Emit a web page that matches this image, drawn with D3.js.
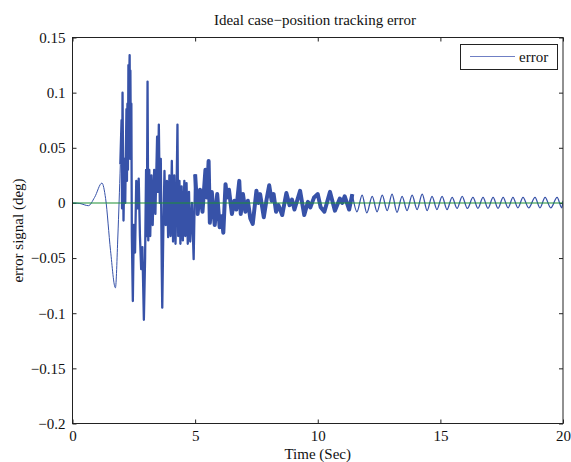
<!DOCTYPE html>
<html lang="en">
<head>
  <meta charset="UTF-8" />
  <title>Ideal case position tracking error</title>
  <style>
    body { margin:0; background:#fff; }
    #chart { display:block; }
    text { font-family:"Liberation Serif","Times New Roman",serif; fill:#111; }
  </style>
</head>
<body>
  <svg id="chart" width="571" height="462"></svg>

  <script src="https://d3js.org/d3.v7.min.js"></script>
  <script>
  // smooth start of the error trace (s, deg)
  const startT = [0, 0.3, 0.65, 0.9, 1.2, 1.35, 1.55, 1.75, 1.85, 1.95];
  const startV = [0, -0.0005, -0.0025, 0.005, 0.018, 0.004, -0.043, -0.077, -0.03, 0.035];

  // large jagged transient, 2-5 s
  const burstT = [1.95, 2.0, 2.02, 2.04, 2.08, 2.12, 2.15, 2.2, 2.22, 2.24, 2.26, 2.28, 2.3, 2.31,
                  2.33, 2.35, 2.36, 2.38, 2.4, 2.42, 2.46, 2.5, 2.55, 2.6, 2.65, 2.7, 2.75, 2.8,
                  2.85, 2.91, 2.96, 3.0, 3.03, 3.06, 3.09, 3.13, 3.17, 3.22, 3.27, 3.33, 3.38,
                  3.45, 3.48, 3.52, 3.56, 3.6, 3.64, 3.66, 3.7, 3.75, 3.8, 3.85, 3.9, 3.95, 4.0,
                  4.05, 4.1, 4.15, 4.2, 4.25, 4.28, 4.31, 4.36, 4.4, 4.45, 4.5, 4.56, 4.6, 4.65,
                  4.7, 4.75, 4.8, 4.87, 4.94, 5.0];
  const burstV = [0.035, 0.075, -0.005, 0.100, -0.016, 0.040, 0.000, 0.085, 0.020, 0.090, 0.030, 0.125,
                  0.040, 0.110, 0.134, 0.040, 0.120, 0.050, 0.090, -0.030, -0.089, -0.020, -0.045,
                  0.020, -0.005, 0.022, -0.030, -0.060, -0.040, -0.106, -0.050, 0.030, -0.030, 0.110,
                  -0.034, 0.030, -0.030, 0.025, -0.020, 0.030, -0.010, 0.060, 0.010, 0.071, 0.000,
                  0.040, -0.060, -0.095, -0.030, 0.029, -0.020, 0.020, -0.031, 0.025, -0.030, 0.038,
                  -0.035, 0.025, -0.037, 0.020, 0.071, -0.030, 0.020, -0.037, 0.015, -0.034, 0.020,
                  -0.030, 0.018, -0.037, 0.010, -0.035, 0.000, -0.051, 0.026];

  // decaying noisy wave, 5-11.4 s
  const waveT = [5.0, 5.1, 5.2, 5.3, 5.42, 5.48, 5.55, 5.6, 5.68, 5.8, 5.9, 6.0, 6.08, 6.15, 6.24, 6.3,
                 6.38, 6.5, 6.6, 6.68, 6.8, 6.86, 6.95, 7.05, 7.15, 7.25, 7.35, 7.5, 7.58, 7.65, 7.8,
                 7.92, 8.02, 8.12, 8.2, 8.3, 8.4, 8.55, 8.72, 8.85, 8.95, 9.05, 9.28, 9.45, 9.6, 9.7,
                 9.85, 10.0, 10.12, 10.27, 10.5, 10.7, 10.9, 11.0, 11.1, 11.28, 11.41];
  const waveV = [0.026, -0.010, 0.012, -0.008, 0.030, 0.005, 0.038, -0.018, 0.010, -0.020, 0.008, -0.022,
                 -0.012, -0.027, 0.017, 0.005, 0.012, -0.010, 0.002, -0.006, 0.020, -0.010, 0.008, -0.008,
                 0.002, -0.014, -0.019, 0.011, 0.000, 0.008, -0.013, 0.004, 0.016, 0.002, 0.008, -0.008,
                 -0.002, -0.011, 0.009, -0.002, 0.003, -0.006, 0.011, -0.011, 0.001, -0.004, 0.005, 0.008,
                 -0.004, -0.008, 0.010, -0.007, 0.004, 0.000, 0.006, -0.006, 0.008];

  // settled oscillation, peaks and troughs (s, deg)
  const tailT = [11.41, 11.6, 11.81, 12.0, 12.22, 12.42, 12.63, 12.83, 13.03, 13.23, 13.44, 13.64,
                 13.85, 14.05, 14.26, 14.46, 14.66, 14.86, 15.07, 15.27, 15.48, 15.68, 15.89, 16.1,
                 16.33, 16.53, 16.74, 16.94, 17.15, 17.35, 17.56, 17.76, 17.96, 18.16, 18.37, 18.6,
                 18.86, 19.06, 19.27, 19.5, 19.76, 19.95, 20];
  const tailV = [0.008, -0.008, 0.007, -0.009, 0.006, -0.008, 0.007, -0.007, 0.008, -0.0085, 0.006,
                 -0.007, 0.007, -0.006, 0.008, -0.007, 0.006, -0.006, 0.006, -0.006, 0.005, -0.005,
                 0.006, -0.005, 0.005, -0.005, 0.005, -0.005, 0.005, -0.005, 0.005, -0.0045, 0.005,
                 -0.0045, 0.005, -0.0045, 0.005, -0.0045, 0.005, -0.0045, 0.005, -0.0045, 0.002];

  const xTicks = [0, 5, 10, 15, 20];
  const yTicks = [-0.2, -0.15, -0.1, -0.05, 0, 0.05, 0.1, 0.15];

  const svg = d3.select("#chart");
  const L = 72.5, R = 563, T = 37.5, B = 423.5;
  const x = d3.scaleLinear().domain([0, 20]).range([L, R]);
  const y = d3.scaleLinear().domain([-0.2, 0.15]).range([B, T]);
  const blue = "#3752a8", green = "#1c8f34";
  const serif = "Liberation Serif, Times New Roman, serif";
  const fmt = d => d === 0 ? "0" : String(d).replace("-", "\u2212");

  // axes with inward ticks on all four sides
  const gx = svg.append("g").attr("transform", `translate(0,${B})`)
    .call(d3.axisBottom(x).tickValues(xTicks).tickSize(-4).tickPadding(7).tickFormat(fmt));
  const gy = svg.append("g").attr("transform", `translate(${L},0)`)
    .call(d3.axisLeft(y).tickValues(yTicks).tickSize(-4).tickPadding(7).tickFormat(fmt));
  const gt = svg.append("g").attr("transform", `translate(0,${T})`)
    .call(d3.axisTop(x).tickValues(xTicks).tickSize(-4).tickFormat(""));
  const gr = svg.append("g").attr("transform", `translate(${R},0)`)
    .call(d3.axisRight(y).tickValues(yTicks).tickSize(-4).tickFormat(""));
  [gx, gy, gt, gr].forEach(g => {
    g.attr("font-family", serif).attr("font-size", 15);
    g.select(".domain").remove();
    g.selectAll("line").attr("stroke", "#222");
    g.selectAll("text").attr("fill", "#111");
  });
  gx.selectAll("text").attr("dy", "0.71em");

  // data
  svg.append("clipPath").attr("id", "clip")
    .append("rect").attr("x", L).attr("y", T).attr("width", R - L).attr("height", B - T);
  const plot = svg.append("g").attr("clip-path", "url(#clip)");

  const smooth = d3.line().x(d => x(d[0])).y(d => y(d[1])).curve(d3.curveMonotoneX);
  const sharp  = d3.line().x(d => x(d[0])).y(d => y(d[1]));
  const pairs = (ts, vs) => ts.map((t, i) => [t, vs[i]]);

  plot.append("path").datum(pairs(startT, startV))
    .attr("fill", "none").attr("stroke", blue).attr("stroke-width", 1).attr("d", smooth);
  plot.append("path").datum(pairs(burstT, burstV))
    .attr("fill", "none").attr("stroke", blue).attr("stroke-width", 2.3)
    .attr("stroke-linejoin", "round").attr("d", sharp);
  plot.append("path").datum(pairs(waveT, waveV))
    .attr("fill", "none").attr("stroke", blue).attr("stroke-width", 4)
    .attr("stroke-linejoin", "round").attr("d", sharp);
  plot.append("path").datum(pairs(tailT, tailV))
    .attr("fill", "none").attr("stroke", blue).attr("stroke-width", 1.3).attr("d", smooth);

  // reference at zero
  plot.append("line").attr("x1", x(0)).attr("x2", x(20)).attr("y1", y(0)).attr("y2", y(0))
    .attr("stroke", green).attr("stroke-width", 1.1);

  // box
  svg.append("rect").attr("x", L).attr("y", T).attr("width", R - L).attr("height", B - T)
    .attr("fill", "none").attr("stroke", "#222").attr("stroke-width", 1);

  // legend
  const lg = svg.append("g");
  lg.append("rect").attr("x", 460.5).attr("y", 44.5).attr("width", 97).attr("height", 25)
    .attr("fill", "#fff").attr("stroke", "#222");
  lg.append("line").attr("x1", 470).attr("x2", 515).attr("y1", 56.5).attr("y2", 56.5)
    .attr("stroke", "#6f7fc4").attr("stroke-width", 1);
  lg.append("text").attr("x", 519).attr("y", 61.5).style("font-size", "15px").text("error");

  // labels
  svg.append("text").attr("x", 315).attr("y", 25).attr("text-anchor", "middle")
    .style("font-size", "15px").text("Ideal case\u2212position tracking error");
  svg.append("text").attr("x", (L + R) / 2).attr("y", 459).attr("text-anchor", "middle")
    .style("font-size", "15px").text("Time (Sec)");
  svg.append("text").attr("transform", `translate(23,${(T + B) / 2}) rotate(-90)`)
    .attr("text-anchor", "middle").style("font-size", "15px").text("error signal (deg)");
  </script>
</body>
</html>
